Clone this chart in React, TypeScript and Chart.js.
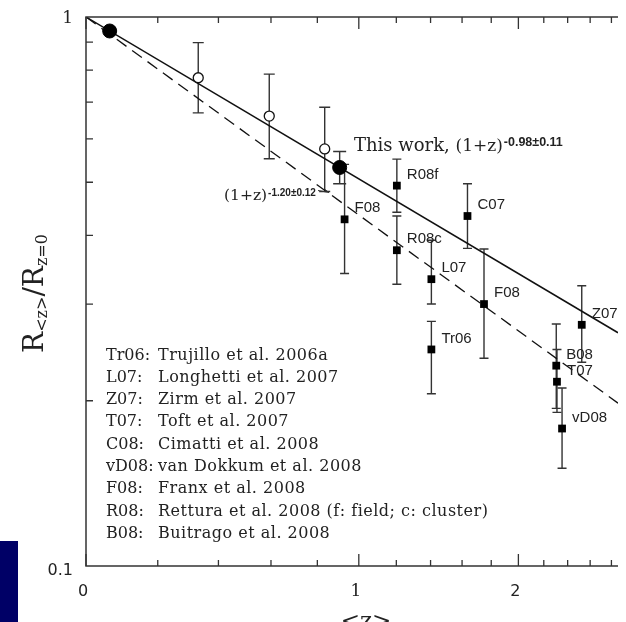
import React, { useEffect, useRef } from 'react';
import { Chart, registerables } from 'chart.js';
Chart.register(...registerables);

// ---- data ----
// "This work" (filled circles)
const thisZ = [0.062, 0.905];
const thisR = [0.943, 0.532];
const thisHi: (number | null)[] = [null, 0.569];
const thisLo: (number | null)[] = [null, 0.497];

// binned points (open circles)
const binZ = [0.33, 0.593, 0.834];
const binR = [0.775, 0.66, 0.575];
const binHi = [0.898, 0.787, 0.685];
const binLo = [0.669, 0.552, 0.481];

// literature (filled squares)
const litLabels = ['F08', 'R08f', 'R08c', 'C07', 'L07', 'Tr06', 'F08', 'Z07', 'B08', 'T07', 'vD08'];
const litZ = [0.929, 1.203, 1.203, 1.636, 1.405, 1.405, 1.749, 2.524, 2.303, 2.309, 2.352];
const litR = [0.428, 0.493, 0.376, 0.434, 0.333, 0.248, 0.3, 0.275, 0.2317, 0.2166, 0.178];
const litHi = [0.539, 0.551, 0.434, 0.497, 0.392, 0.279, 0.378, 0.324, 0.276, 0.248, 0.211];
const litLo = [0.341, 0.441, 0.326, 0.379, 0.3, 0.206, 0.239, 0.235, 0.1937, 0.1905, 0.1507];

// fit lines (endpoints: z=0 and right edge of the plot)
const fitZ = [0, 2.864];
const solidFitR = [1, 0.266];
const dashedFitR = [1, 0.198];

// axes
const zMax = 2.864;
const xMajorZ = [0, 1, 2];
const xMajorLabels = ['0', '1', '2'];
const xMinorZ = [0.2, 0.4, 0.6, 0.8, 1.2, 1.4, 1.6, 1.8, 2.2, 2.4, 2.6, 2.8];
const yMajor = [0.1, 1];
const yMajorLabels = ['0.1', '1'];
const yMinor = [0.2, 0.3, 0.4, 0.5, 0.6, 0.7, 0.8, 0.9];

// reference key
const refKeys = ['Tr06:', 'L07:', 'Z07:', 'T07:', 'C08:', 'vD08:', 'F08:', 'R08:', 'B08:'];
const refNames = [
  'Trujillo et al. 2006a',
  'Longhetti et al. 2007',
  'Zirm et al. 2007',
  'Toft et al. 2007',
  'Cimatti et al. 2008',
  'van Dokkum et al. 2008',
  'Franx et al. 2008',
  'Rettura et al. 2008 (f: field; c: cluster)',
  'Buitrago et al. 2008',
];

const SERIF = '"DejaVu Serif", serif';
const SANS = '"Liberation Sans", Arial, sans-serif';
const INK = '#222';

const overlay = {
  id: 'overlay',
  beforeDatasetsDraw(chart: any) {
    const { ctx, scales } = chart;
    const x = scales.x, y = scales.y;
    ctx.save();
    ctx.strokeStyle = '#333';
    ctx.lineWidth = 1.4;
    const bar = (z: number, lo: number | null, hi: number | null, cw: number) => {
      if (lo == null || hi == null) return;
      const px = x.getPixelForValue(1 + z);
      const y1 = y.getPixelForValue(hi);
      const y2 = y.getPixelForValue(lo);
      ctx.beginPath();
      ctx.moveTo(px, y1); ctx.lineTo(px, y2);
      ctx.moveTo(px - cw, y1); ctx.lineTo(px + cw, y1);
      ctx.moveTo(px - cw, y2); ctx.lineTo(px + cw, y2);
      ctx.stroke();
    };
    thisZ.forEach((z, i) => bar(z, thisLo[i], thisHi[i], 6.5));
    binZ.forEach((z, i) => bar(z, binLo[i], binHi[i], 5.5));
    litZ.forEach((z, i) => bar(z, litLo[i], litHi[i], 4.5));
    ctx.restore();
  },
  afterDraw(chart: any) {
    const { ctx, scales, chartArea } = chart;
    const x = scales.x, y = scales.y;
    const { left, right, top, bottom } = chartArea;
    ctx.save();
    // frame
    ctx.strokeStyle = '#333';
    ctx.lineWidth = 1.5;
    ctx.beginPath();
    ctx.moveTo(right, top); ctx.lineTo(left, top); ctx.lineTo(left, bottom); ctx.lineTo(right, bottom);
    ctx.stroke();
    // ticks
    ctx.lineWidth = 1.3;
    ctx.beginPath();
    xMinorZ.forEach((z) => {
      const px = x.getPixelForValue(1 + z);
      ctx.moveTo(px, bottom); ctx.lineTo(px, bottom - 6);
      ctx.moveTo(px, top); ctx.lineTo(px, top + 6);
    });
    xMajorZ.forEach((z) => {
      const px = x.getPixelForValue(1 + z);
      ctx.moveTo(px, bottom); ctx.lineTo(px, bottom - 12);
      ctx.moveTo(px, top); ctx.lineTo(px, top + 12);
    });
    yMinor.forEach((v) => {
      const py = y.getPixelForValue(v);
      ctx.moveTo(left, py); ctx.lineTo(left + 7, py);
    });
    ctx.stroke();

    // tick labels
    ctx.fillStyle = INK;
    ctx.textBaseline = 'middle';
    ctx.textAlign = 'center';
    xMajorZ.forEach((z, i) => {
      const px = x.getPixelForValue(1 + z);
      ctx.font = (xMajorLabels[i] === '1' ? '17px ' + SERIF : '16px "DejaVu Sans", sans-serif');
      ctx.fillText(xMajorLabels[i], px - 3, bottom + 26);
    });
    ctx.textAlign = 'right';
    yMajor.forEach((v, i) => {
      const py = y.getPixelForValue(v);
      ctx.font = (yMajorLabels[i] === '1' ? '17px ' + SERIF : '16px "DejaVu Sans", sans-serif');
      ctx.fillText(yMajorLabels[i], left - 13, py + (v === 1 ? 2 : 5));
    });

    // point labels
    ctx.textAlign = 'left';
    ctx.font = '15px ' + SANS;
    litLabels.forEach((lab, i) => {
      const px = x.getPixelForValue(1 + litZ[i]);
      const py = y.getPixelForValue(litR[i]);
      ctx.fillText(lab, px + 10, py - 11);
    });

    // reference key
    ctx.textBaseline = 'alphabetic';
    ctx.font = '16px ' + SERIF;
    refKeys.forEach((k, i) => {
      const by = 359.5 + i * 22.3;
      ctx.fillText(k, left + 20, by);
    });
    try { (ctx as any).letterSpacing = '0.5px'; } catch (e) {}
    refNames.forEach((n, i) => {
      const by = 359.5 + i * 22.3;
      ctx.fillText(n, left + 72, by);
    });
    try { (ctx as any).letterSpacing = '0px'; } catch (e) {}

    // fit annotations
    const sup = (x0: number, base: number, main: string, mainFont: string, sp: string, spFont: string, rise: number) => {
      ctx.font = mainFont;
      ctx.fillText(main, x0, base);
      const w = ctx.measureText(main).width;
      ctx.font = spFont;
      ctx.fillText(sp, x0 + w + 1, base - rise);
    };
    ctx.font = '18px ' + SERIF;
    ctx.fillText('This work, ', 354, 151);
    const w1 = ctx.measureText('This work, ').width;
    sup(354 + w1, 151, '(1+z)', '17px ' + SERIF, '-0.98±0.11', 'bold 12.5px ' + SANS, 5);
    sup(224, 200, '(1+z)', '15.5px ' + SERIF, '-1.20±0.12', 'bold 10px ' + SANS, 4);
    // small arrow
    ctx.strokeStyle = '#333';
    ctx.lineWidth = 1;
    ctx.beginPath();
    ctx.moveTo(318, 190.5); ctx.lineTo(329, 192.5);
    ctx.moveTo(329, 192.5); ctx.lineTo(325, 189.5);
    ctx.stroke();

    // y title
    ctx.save();
    ctx.translate(43, 293.5);
    ctx.rotate(-Math.PI / 2);
    const big = '28px ' + SERIF, small = '16px ' + SERIF;
    const parts: [string, string, number][] = [
      ['R', big, 0], ['<z>', small, 4], ['/', big, 0], ['R', big, 0], ['z=0', small, 4],
    ];
    let total = 0;
    parts.forEach(([t, f]) => { ctx.font = f; total += ctx.measureText(t).width; });
    let u = -total / 2;
    parts.forEach(([t, f, dv]) => {
      ctx.font = f;
      ctx.fillText(t, u, dv);
      u += ctx.measureText(t).width;
    });
    ctx.restore();

    // x title
    ctx.textAlign = 'center';
    ctx.font = '23px ' + SERIF;
    ctx.fillText('<z>', 366, 628);

    // slide decoration
    ctx.fillStyle = '#000066';
    ctx.fillRect(0, 541, 18, 81);
    ctx.restore();
  },
};

export default function App() {
  const ref = useRef<HTMLCanvasElement>(null);
  useEffect(() => {
    if (!ref.current) return;
    const chart = new Chart(ref.current, {
      type: 'scatter',
      data: {
        datasets: [
          {
            label: 'This work',
            data: thisZ.map((z, i) => ({ x: 1 + z, y: thisR[i] })),
            pointStyle: 'circle',
            pointRadius: 7,
            backgroundColor: '#000',
            borderColor: '#000',
            borderWidth: 1,
            order: 0,
          },
          {
            label: 'bins',
            data: binZ.map((z, i) => ({ x: 1 + z, y: binR[i] })),
            pointStyle: 'circle',
            pointRadius: 5,
            backgroundColor: '#fff',
            borderColor: '#111',
            borderWidth: 1.3,
            order: 1,
          },
          {
            label: 'literature',
            data: litZ.map((z, i) => ({ x: 1 + z, y: litR[i] })),
            pointStyle: 'rect',
            pointRadius: 5.5,
            backgroundColor: '#000',
            borderColor: '#000',
            borderWidth: 0,
            order: 2,
          },
          {
            type: 'line',
            label: 'solid fit',
            data: fitZ.map((z, i) => ({ x: 1 + z, y: solidFitR[i] })),
            borderColor: '#111',
            borderWidth: 1.5,
            pointRadius: 0,
            order: 5,
          },
          {
            type: 'line',
            label: 'dashed fit',
            data: fitZ.map((z, i) => ({ x: 1 + z, y: dashedFitR[i] })),
            borderColor: '#111',
            borderWidth: 1.3,
            borderDash: [12, 7],
            pointRadius: 0,
            order: 6,
          },
        ] as any,
      },
      options: {
        responsive: false,
        maintainAspectRatio: false,
        animation: false,
        layout: { padding: { left: 86, top: 17, right: 0, bottom: 56 } },
        plugins: { legend: { display: false }, tooltip: { enabled: false } },
        scales: {
          x: { type: 'logarithmic', min: 1, max: 1 + zMax, display: false },
          y: { type: 'logarithmic', min: 0.1, max: 1, display: false },
        },
      },
      plugins: [overlay],
    });
    return () => chart.destroy();
  }, []);
  return (
    <div style={{ position: 'fixed', left: 0, top: 0, width: 626, height: 622, background: '#fff' }}>
      <canvas ref={ref} width={626} height={622} style={{ width: 626, height: 622, display: 'block' }} />
    </div>
  );
}
